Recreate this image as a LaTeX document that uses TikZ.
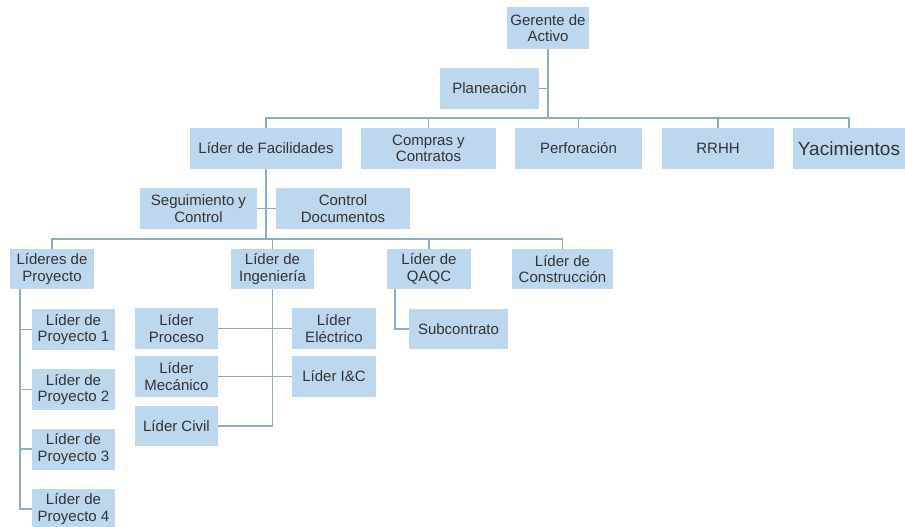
\documentclass[tikz,border=0pt]{standalone}
\usepackage{fontspec}
\setmainfont{Liberation Sans}
\definecolor{boxfill}{HTML}{BDD7EE}
\definecolor{linec}{HTML}{8EAACB}
\definecolor{txt}{HTML}{333333}
\begin{document}
\begin{tikzpicture}[x=1pt,y=-1pt,
  box/.style={fill=boxfill,draw=none,inner sep=0pt,align=center,text=txt,
    font=\fontsize{15}{16.5}\selectfont,minimum height=41pt},
  conn/.style={draw=linec,line width=1.2pt}]
\useasboundingbox (0,0) rectangle (905,527);
% top
\node[box,minimum width=82pt,minimum height=42pt] (ger) at (548,28) {Gerente de\\Activo};
\node[box,minimum width=99pt] (plan) at (489.5,88.5) {Planeación};
% level 1
\node[box,minimum width=152pt] (fac) at (266,148.5) {Líder de Facilidades};
\node[box,minimum width=135pt] (comp) at (428.5,148.5) {Compras y\\Contratos};
\node[box,minimum width=127pt] (perf) at (578.5,148.5) {Perforación};
\node[box,minimum width=112pt] (rrhh) at (718,148.5) {RRHH};
\node[box,minimum width=112pt,font=\fontsize{19}{21}\selectfont] (yac) at (849,148.5) {Yacimientos};
% staff of facilities
\node[box,minimum width=117pt] (seg) at (198.5,208.5) {Seguimiento y\\Control};
\node[box,minimum width=134pt] (cdoc) at (343,208.5) {Control\\Documentos};
% level 2
\node[box,minimum width=84pt,minimum height=40pt] (lp) at (52,269) {Líderes de\\Proyecto};
\node[box,minimum width=83pt,minimum height=40pt] (ing) at (272.5,269) {Líder de\\Ingeniería};
\node[box,minimum width=84pt,minimum height=40pt] (qaqc) at (429,269) {Líder de\\QAQC};
\node[box,minimum width=101pt,minimum height=40pt] (cons) at (562.5,269) {Líder de\\Construcción};
\node[box,minimum width=99pt,minimum height=40pt] (sub) at (458.5,329) {Subcontrato};
% project leaders
\node[box,minimum width=83pt] (p1) at (73.5,329.5) {Líder de\\Proyecto 1};
\node[box,minimum width=83pt] (p2) at (73.5,389.5) {Líder de\\Proyecto 2};
\node[box,minimum width=83pt] (p3) at (73.5,449) {Líder de\\Proyecto 3};
\node[box,minimum width=83pt] (p4) at (73.5,509) {Líder de\\Proyecto 4};
% engineering
\node[box,minimum width=83pt] (proc) at (176.5,328.5) {Líder\\Proceso};
\node[box,minimum width=84pt] (elec) at (334,328.5) {Líder\\Eléctrico};
\node[box,minimum width=83pt] (mec) at (176.5,376.5) {Líder\\Mecánico};
\node[box,minimum width=84pt] (ic) at (334,376.5) {Líder I\&C};
\node[box,minimum width=83pt,minimum height=40pt] (civ) at (176.5,426) {Líder Civil};
% connectors
\coordinate (b1) at (548,118);
\coordinate (b2) at (266,239);
\draw[conn] (ger.south) -- (b1);
\draw[conn] (plan.east) -- (plan.east -| ger.south);
\draw[conn] (fac.north) -- (fac.north |- b1) -| (yac.north);
\draw[conn] (comp.north) -- (comp.north |- b1);
\draw[conn] (perf.north) -- (perf.north |- b1);
\draw[conn] (rrhh.north) -- (rrhh.north |- b1);
\draw[conn] (fac.south) -- (b2);
\draw[conn] (seg.east) -- (cdoc.west);
\draw[conn] (lp.north) -- (lp.north |- b2) -| (cons.north);
\draw[conn] (ing.north) -- (ing.north |- b2);
\draw[conn] (qaqc.north) -- (qaqc.north |- b2);
\draw[conn] ([xshift=-34pt]qaqc.south) |- (sub.west);
\coordinate (lpx) at ([xshift=-32pt]lp.south);
\draw[conn] (lpx) |- (p4.west);
\draw[conn] (p1.west) -- (p1.west -| lpx);
\draw[conn] (p2.west) -- (p2.west -| lpx);
\draw[conn] (p3.west) -- (p3.west -| lpx);
\draw[conn] (ing.south) |- (civ.east);
\draw[conn] (proc.east) -- (elec.west);
\draw[conn] (mec.east) -- (ic.west);
\end{tikzpicture}
\end{document}
